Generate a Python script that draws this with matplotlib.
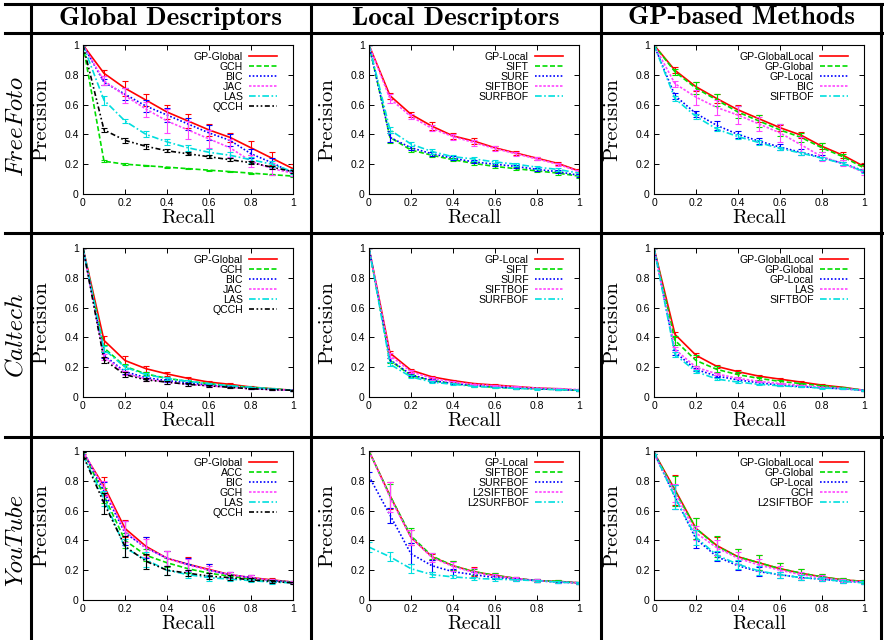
import matplotlib
matplotlib.use("Agg")
import matplotlib.pyplot as plt
from matplotlib.lines import Line2D

W, H = 884, 640

RECALL = [0.0, 0.1, 0.2, 0.3, 0.4, 0.5, 0.6, 0.7, 0.8, 0.9, 1.0]
TICKS = [0.0, 0.2, 0.4, 0.6, 0.8, 1.0]
TICK_LABELS = ["0", "0.2", "0.4", "0.6", "0.8", "1"]

COL_HEADERS = ["Global Descriptors", "Local Descriptors", "GP-based Methods"]
ROW_LABELS = ["FreeFoto", "Caltech", "YouTube"]

# (label, precision, error half-width) per curve, one list per panel
FF_GLOBAL = [
    ("GP-Global", [1.0, .81, .71, .63, .55, .49, .43, .38, .31, .24, .17],
     [0, .02, .05, .04, .045, .045, .04, .03, .045, .045, .03]),
    ("GCH", [1.0, .22, .20, .19, .18, .17, .16, .15, .14, .13, .12],
     [0, .005, .005, .005, .004, .004, .004, .004, .003, .003, .003]),
    ("BIC", [1.0, .75, .67, .59, .53, .47, .41, .36, .27, .21, .14],
     [0, .02, .04, .04, .05, .04, .05, .04, .03, .03, .02]),
    ("JAC", [1.0, .76, .66, .57, .49, .43, .37, .31, .22, .17, .14],
     [0, .03, .05, .05, .08, .06, .06, .06, .04, .04, .02]),
    ("LAS", [1.0, .63, .49, .40, .35, .31, .28, .26, .23, .20, .15],
     [0, .03, .015, .02, .02, .02, .02, .02, .02, .02, .015]),
    ("QCCH", [1.0, .43, .36, .32, .29, .27, .25, .23, .21, .18, .15],
     [0, .015, .015, .015, .01, .01, .01, .01, .01, .01, .01]),
]
FF_LOCAL = [
    ("GP-Local", [1.0, .66, .535, .455, .39, .355, .31, .275, .24, .205, .155],
     [0, .02, .015, .025, .02, .02, .015, .015, .01, .01, .015]),
    ("SIFT", [1.0, .38, .295, .26, .23, .205, .185, .17, .155, .14, .12],
     [0, .04, .015, .01, .01, .01, .01, .01, .01, .01, .01]),
    ("SURF", [1.0, .38, .31, .27, .24, .215, .20, .185, .165, .15, .125],
     [0, .03, .015, .015, .015, .01, .01, .01, .01, .01, .01]),
    ("SIFTBOF", [1.0, .64, .52, .44, .385, .345, .305, .27, .235, .20, .15],
     [0, .03, .015, .02, .02, .02, .015, .015, .01, .01, .01]),
    ("SURFBOF", [1.0, .43, .335, .285, .25, .235, .215, .20, .18, .165, .14],
     [0, .02, .015, .015, .015, .015, .01, .01, .01, .01, .01]),
]
FF_GP = [
    ("GP-GlobalLocal", [1.0, .83, .72, .64, .565, .505, .445, .395, .32, .26, .185],
     [0, .02, .03, .03, .03, .025, .02, .02, .02, .02, .02]),
    ("GP-Global", [1.0, .82, .71, .63, .55, .49, .43, .38, .31, .25, .175],
     [0, .02, .04, .04, .04, .04, .04, .03, .03, .02, .02]),
    ("GP-Local", [1.0, .66, .54, .46, .40, .355, .315, .28, .245, .205, .155],
     [0, .02, .02, .03, .025, .02, .02, .02, .015, .01, .01]),
    ("BIC", [1.0, .74, .65, .58, .53, .47, .41, .33, .25, .205, .145],
     [0, .02, .05, .05, .06, .05, .06, .05, .03, .02, .02]),
    ("SIFTBOF", [1.0, .64, .52, .435, .385, .345, .305, .275, .24, .205, .15],
     [0, .015, .015, .015, .015, .015, .01, .01, .01, .01, .01]),
]
CT_GLOBAL = [
    ("GP-Global", [1.0, .38, .245, .19, .155, .125, .10, .085, .067, .055, .045],
     [0, .03, .03, .02, .015, .01, .008, .006, .005, .004, .003]),
    ("GCH", [1.0, .33, .205, .155, .125, .105, .09, .075, .065, .055, .045],
     [0, .02, .015, .01, .01, .008, .006, .005, .004, .003, .003]),
    ("BIC", [1.0, .28, .17, .13, .11, .095, .08, .07, .06, .05, .045],
     [0, .02, .015, .01, .01, .008, .006, .005, .004, .003, .003]),
    ("JAC", [1.0, .27, .16, .12, .10, .085, .075, .065, .055, .05, .045],
     [0, .02, .015, .01, .01, .008, .006, .005, .004, .003, .003]),
    ("LAS", [1.0, .32, .20, .15, .125, .105, .09, .075, .065, .055, .045],
     [0, .02, .015, .01, .01, .008, .006, .005, .004, .003, .003]),
    ("QCCH", [1.0, .25, .15, .115, .10, .085, .075, .065, .055, .05, .045],
     [0, .02, .015, .01, .01, .008, .006, .005, .004, .003, .003]),
]
CT_LOCAL = [
    ("GP-Local", [1.0, .295, .18, .135, .11, .09, .08, .07, .06, .055, .045],
     [0, .015, .01, .008, .006, .005, .004, .004, .003, .003, .003]),
    ("SIFT", [1.0, .245, .145, .11, .09, .075, .065, .06, .055, .05, .045],
     [0, .015, .01, .008, .006, .005, .004, .004, .003, .003, .003]),
    ("SURF", [1.0, .25, .15, .11, .09, .078, .068, .06, .055, .05, .045],
     [0, .015, .01, .008, .006, .005, .004, .004, .003, .003, .003]),
    ("SIFTBOF", [1.0, .28, .17, .125, .10, .085, .075, .068, .06, .055, .05],
     [0, .015, .01, .008, .006, .005, .004, .004, .003, .003, .003]),
    ("SURFBOF", [1.0, .22, .135, .10, .085, .072, .063, .058, .053, .05, .045],
     [0, .015, .01, .008, .006, .005, .004, .004, .003, .003, .003]),
]
CT_GP = [
    ("GP-GlobalLocal", [1.0, .42, .28, .205, .17, .14, .12, .10, .08, .065, .045],
     [0, .015, .012, .01, .008, .006, .005, .005, .004, .003, .003]),
    ("GP-Global", [1.0, .38, .245, .185, .15, .125, .105, .09, .075, .062, .045],
     [0, .03, .04, .02, .015, .01, .008, .006, .005, .004, .003]),
    ("GP-Local", [1.0, .30, .185, .14, .115, .095, .08, .07, .062, .055, .045],
     [0, .015, .01, .008, .006, .005, .004, .004, .003, .003, .003]),
    ("LAS", [1.0, .32, .20, .155, .125, .105, .09, .078, .066, .057, .045],
     [0, .015, .01, .008, .006, .005, .004, .004, .003, .003, .003]),
    ("SIFTBOF", [1.0, .285, .17, .12, .10, .085, .075, .068, .06, .055, .045],
     [0, .015, .01, .008, .006, .005, .004, .004, .003, .003, .003]),
]
YT_GLOBAL = [
    ("GP-Global", [.99, .765, .48, .36, .28, .24, .205, .17, .15, .135, .12],
     [.01, .06, .06, .06, .05, .05, .035, .02, .015, .01, .008]),
    ("ACC", [1.0, .70, .40, .30, .25, .21, .18, .16, .14, .13, .12],
     [.01, .05, .05, .04, .03, .03, .02, .015, .01, .01, .008]),
    ("BIC", [1.0, .73, .45, .35, .28, .24, .20, .17, .15, .13, .12],
     [.01, .06, .08, .07, .05, .04, .04, .02, .015, .01, .008]),
    ("GCH", [1.0, .75, .46, .35, .28, .235, .20, .17, .15, .13, .12],
     [.01, .05, .07, .06, .05, .04, .03, .02, .015, .01, .008]),
    ("LAS", [.97, .68, .35, .27, .20, .17, .15, .14, .13, .12, .115],
     [.02, .05, .06, .05, .03, .02, .02, .015, .01, .01, .008]),
    ("QCCH", [.97, .65, .36, .26, .20, .18, .16, .15, .135, .125, .115],
     [.02, .07, .07, .05, .03, .02, .02, .015, .01, .01, .008]),
]
YT_LOCAL = [
    ("GP-Local", [1.0, .70, .42, .29, .23, .19, .165, .145, .13, .125, .115],
     [0, .09, .05, .02, .03, .03, .015, .01, .008, .006, .005]),
    ("SIFTBOF", [1.0, .70, .43, .295, .23, .19, .165, .145, .13, .125, .115],
     [0, .08, .05, .02, .03, .02, .015, .01, .008, .006, .005]),
    ("SURFBOF", [.83, .57, .31, .23, .19, .17, .15, .14, .13, .12, .115],
     [.03, .05, .07, .04, .02, .015, .01, .01, .008, .006, .005]),
    ("L2SIFTBOF", [1.0, .69, .42, .285, .225, .185, .16, .145, .13, .12, .115],
     [0, .10, .05, .03, .03, .03, .015, .01, .008, .006, .005]),
    ("L2SURFBOF", [.355, .29, .21, .17, .155, .145, .14, .135, .13, .12, .115],
     [.035, .03, .03, .015, .01, .01, .01, .008, .006, .006, .005]),
]
YT_GP = [
    ("GP-GlobalLocal", [.99, .74, .48, .365, .29, .25, .21, .18, .155, .135, .125],
     [.01, .10, .07, .06, .05, .05, .04, .03, .02, .015, .01]),
    ("GP-Global", [.99, .73, .48, .36, .29, .25, .21, .18, .155, .135, .125],
     [.01, .10, .07, .07, .05, .05, .04, .03, .02, .015, .01]),
    ("GP-Local", [.99, .69, .41, .29, .23, .19, .17, .15, .14, .125, .12],
     [.01, .08, .06, .03, .03, .03, .02, .015, .015, .01, .01]),
    ("GCH", [.98, .72, .45, .35, .28, .235, .20, .17, .15, .13, .12],
     [.02, .06, .05, .05, .04, .04, .03, .02, .015, .01, .01]),
    ("L2SIFTBOF", [.99, .69, .42, .30, .24, .195, .17, .15, .14, .125, .115],
     [.01, .08, .05, .03, .03, .03, .02, .015, .015, .01, .01]),
]

PANELS = [[FF_GLOBAL, FF_LOCAL, FF_GP],
          [CT_GLOBAL, CT_LOCAL, CT_GP],
          [YT_GLOBAL, YT_LOCAL, YT_GP]]

# gnuplot-like line types
STYLES = [("#ff0000", "-"),
          ("#00dd00", (0, (3, 1.5))),
          ("#0000ff", (0, (1, 1.2))),
          ("#ff44ff", (0, (1.5, 1))),
          ("#00dede", (0, (4, 1.5, 1, 1.5))),
          ("#000000", (0, (3, 1.5, 1, 1.5, 1, 1.5)))]

# layout in pixels
AX_LEFT = [83, 369, 654]
AX_TOP = [45, 248, 451]
AX_W, AX_H = 210, 149
VLINES = [30.5, 311, 601, 881]
HLINES = [4, 33, 233, 437]
ROW_Y = [126, 334, 540]


def fx(x):
    return x / W


def fy(y):
    return 1 - y / H


fig = plt.figure(figsize=(W / 100, H / 100), dpi=100)

for r in range(3):
    for c in range(3):
        ax = fig.add_axes([fx(AX_LEFT[c]), fy(AX_TOP[r] + AX_H), AX_W / W, AX_H / H])
        for i, (lab, prec, err) in enumerate(PANELS[r][c]):
            col, ls = STYLES[i]
            ax.errorbar(RECALL, prec, yerr=err, fmt="none", ecolor=col,
                        elinewidth=0.8, capsize=2, capthick=0.8)
            ax.plot(RECALL, prec, color=col, ls=ls, lw=1.2, label=lab)
        ax.set_xlim(0, 1); ax.set_ylim(0, 1)
        ax.set_xticks(TICKS, TICK_LABELS, family="Liberation Sans")
        ax.set_yticks(TICKS, TICK_LABELS, family="Liberation Sans")
        ax.tick_params(direction="in", top=True, right=True, length=3.5,
                       width=0.7, labelsize=7.5, pad=3)
        for s in ax.spines.values():
            s.set_linewidth(0.8)
        ax.set_xlabel("Recall", family="cmr10", fontsize=14.5)
        ax.set_ylabel("Precision", family="cmr10", fontsize=15)
        ax.xaxis.set_label_coords(0.5, -0.10)
        ax.yaxis.set_label_coords(-0.155, 0.5)
        ax.legend(loc="upper right", bbox_to_anchor=(1 - 9 / AX_W, 1),
                  frameon=False, markerfirst=False,
                  prop={"family": "Liberation Sans", "size": 7.6},
                  handlelength=2.65, labelspacing=0.0, borderaxespad=0.25,
                  handletextpad=0.6)

# table rules
for x in VLINES:
    fig.add_artist(Line2D([fx(x), fx(x)], [fy(4), 0], transform=fig.transFigure,
                          color="k", lw=2.2))
for y in HLINES:
    fig.add_artist(Line2D([fx(5), fx(882)], [fy(y), fy(y)], transform=fig.transFigure,
                          color="k", lw=2.2))

for c, txt in enumerate(COL_HEADERS):
    fig.text(fx((VLINES[c] + VLINES[c + 1]) / 2), fy(18), txt, family="cmb10",
             fontsize=19.5, ha="center", va="center")
for r, txt in enumerate(ROW_LABELS):
    fig.text(fx(16), fy(ROW_Y[r]), txt, family="cmmi10", fontsize=18,
             rotation=90, ha="center", va="center")

fig.savefig("out.png", dpi=100)
